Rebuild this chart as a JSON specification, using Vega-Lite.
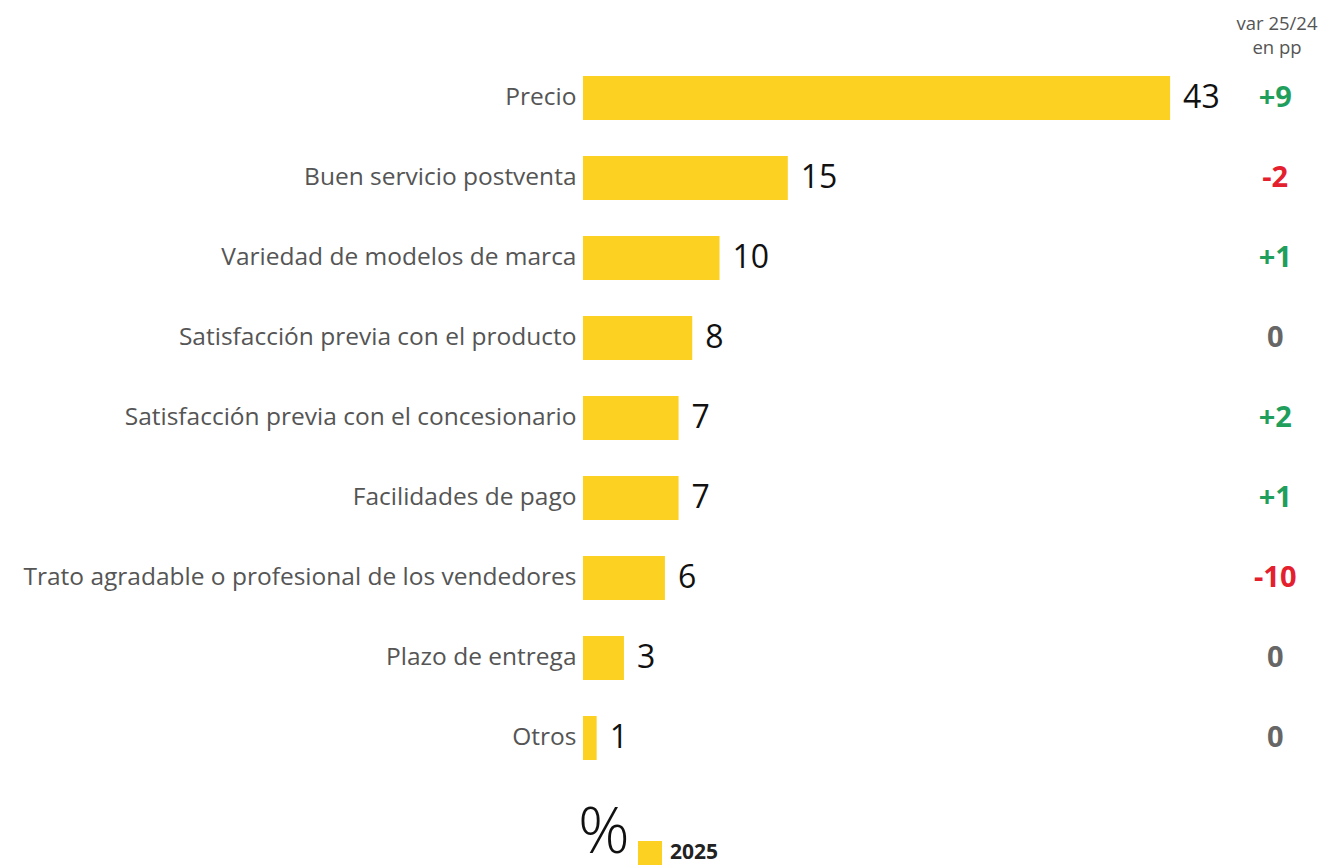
{
  "$schema": "https://vega.github.io/schema/vega-lite/v6.json",
  "width": 740,
  "height": 720,
  "autosize": {"type": "none"},
  "padding": {"left": 583, "top": 58, "right": 0, "bottom": 89},
  "background": "white",
  "config": {"view": {"stroke": null}, "font": "Open Sans"},
  "title": {
    "text": ["var 25/24", "en pp"],
    "anchor": "end",
    "align": "center",
    "dx": -46,
    "offset": 1,
    "fontSize": 18.5,
    "fontWeight": "normal",
    "color": "#555555",
    "font": "Open Sans",
    "lineHeight": 24
  },
  "data": {
    "values": [
      {"motivo": "Precio", "valor": 43, "var": 9, "var_txt": "+9", "serie": "2025"},
      {"motivo": "Buen servicio postventa", "valor": 15, "var": -2, "var_txt": "-2", "serie": "2025"},
      {"motivo": "Variedad de modelos de marca", "valor": 10, "var": 1, "var_txt": "+1", "serie": "2025"},
      {"motivo": "Satisfacción previa con el producto", "valor": 8, "var": 0, "var_txt": "0", "serie": "2025"},
      {"motivo": "Satisfacción previa con el concesionario", "valor": 7, "var": 2, "var_txt": "+2", "serie": "2025"},
      {"motivo": "Facilidades de pago", "valor": 7, "var": 1, "var_txt": "+1", "serie": "2025"},
      {"motivo": "Trato agradable o profesional de los vendedores", "valor": 6, "var": -10, "var_txt": "-10", "serie": "2025"},
      {"motivo": "Plazo de entrega", "valor": 3, "var": 0, "var_txt": "0", "serie": "2025"},
      {"motivo": "Otros", "valor": 1, "var": 0, "var_txt": "0", "serie": "2025"}
    ]
  },
  "encoding": {
    "y": {
      "field": "motivo",
      "type": "nominal",
      "sort": null,
      "scale": {"paddingInner": 0.45, "paddingOuter": 0.225},
      "axis": {
        "title": null,
        "domain": false,
        "ticks": false,
        "labelFontSize": 24.5,
        "labelFontWeight": 500,
        "labelColor": "#555555",
        "labelPadding": 7,
        "labelFont": "Open Sans",
        "labelLimit": 700
      }
    }
  },
  "layer": [
    {
      "mark": {"type": "bar"},
      "encoding": {
        "x": {"field": "valor", "type": "quantitative", "scale": {"domain": [0, 54.2], "nice": false}, "axis": null},
        "color": {
          "field": "serie",
          "type": "nominal",
          "scale": {"range": ["#FCD121"]},
          "legend": {
            "orient": "none",
            "legendX": -5,
            "legendY": 783,
            "direction": "horizontal",
            "title": "%",
            "titleOrient": "left",
            "titleFontSize": 64,
            "titleFontWeight": 300,
            "titleColor": "#111111",
            "titlePadding": 8,
            "titleBaseline": "alphabetic",
            "symbolType": "square",
            "symbolSize": 576,
            "symbolOpacity": 1,
            "symbolStrokeWidth": 0,
            "labelFontSize": 21,
            "labelFontWeight": "bold",
            "labelColor": "#222222",
            "labelOffset": 8
          }
        }
      }
    },
    {
      "mark": {"type": "text", "align": "left", "baseline": "middle", "dx": 13, "fontSize": 32, "color": "#111111"},
      "encoding": {
        "x": {"field": "valor", "type": "quantitative"},
        "text": {"field": "valor", "type": "quantitative"}
      }
    },
    {
      "mark": {"type": "text", "align": "center", "baseline": "middle", "fontSize": 29, "fontWeight": "bold"},
      "encoding": {
        "x": {"datum": 50.7},
        "text": {"field": "var_txt", "type": "nominal"},
        "color": {
          "condition": [
            {"test": "datum['var'] > 0", "value": "#1F9E5C"},
            {"test": "datum['var'] < 0", "value": "#E5202E"}
          ],
          "value": "#666666"
        }
      }
    }
  ]
}
